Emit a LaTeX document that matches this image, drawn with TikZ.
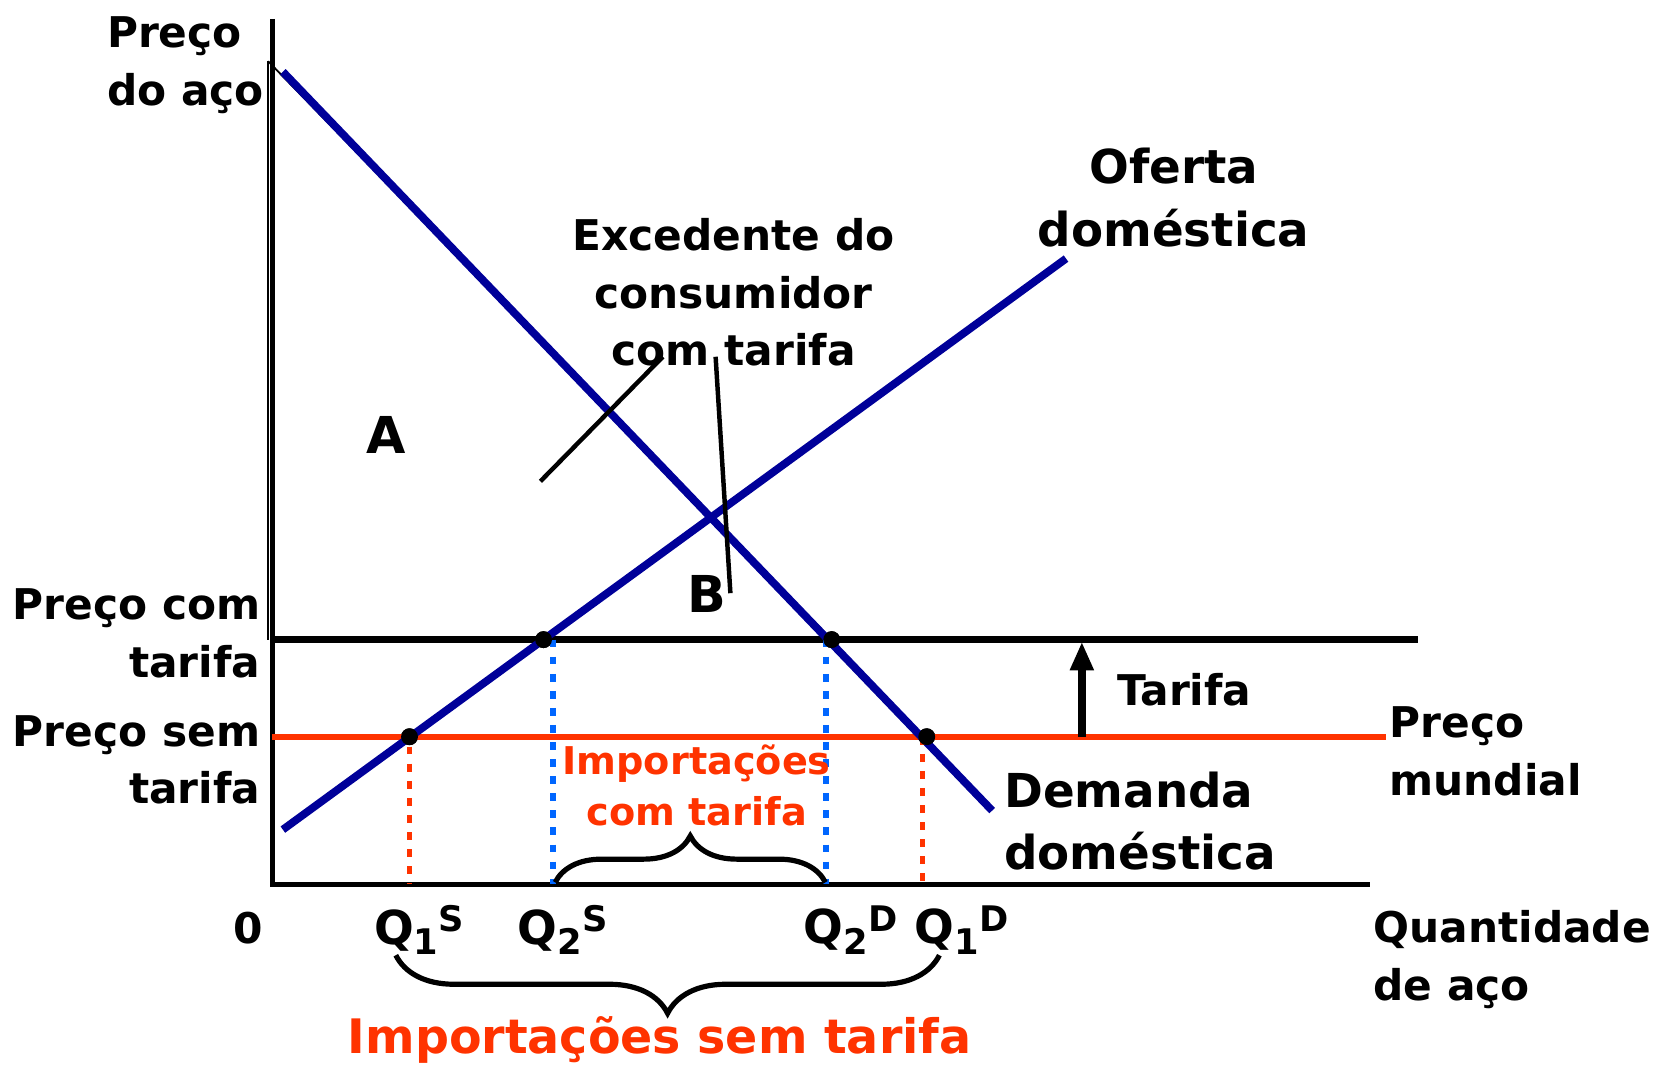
\documentclass[tikz,border=0pt]{standalone}
\usepackage{fontspec}
\setmainfont{DejaVu Sans}
\usetikzlibrary{arrows.meta,positioning,decorations.pathreplacing}

\definecolor{navy}{RGB}{0,0,153}
\definecolor{rotorange}{RGB}{255,51,0}
\definecolor{hellblau}{RGB}{0,102,255}

\newcommand{\qmenge}[2]{Q\raisebox{-2.8pt}{\fontsize{9.5}{9.5}\selectfont #1}\raisebox{3.4pt}{\fontsize{9.5}{9.5}\selectfont #2}}

\begin{document}
\begin{tikzpicture}[x=0.01cm,y=-0.01cm,>={Triangle[length=0.27cm,width=0.21cm]},
                    thick]
\tikzstyle{kurve}=[draw=navy,line width=2.1pt]
\tikzstyle{achse}=[draw=black,line width=1.5pt]
\tikzstyle{preis_linie}=[line width=1.7pt]
\tikzstyle{duenn}=[draw=black,line width=0.5pt]
\tikzstyle{zeiger}=[draw=black,line width=1.2pt]
\tikzstyle{black_point}=[circle,fill=black,inner sep=0pt,minimum size=1.6mm]
\tikzstyle{hilfs_rot}=[draw=rotorange,line width=1.6pt,dash pattern=on 2.1pt off 2.5pt]
\tikzstyle{hilfs_blau}=[draw=hellblau,line width=1.6pt,dash pattern=on 2.1pt off 2.5pt]
\tikzstyle{klammer}=[draw=black,line width=1.4pt,decorate]
\tikzstyle{txt}=[inner sep=0pt,font=\fontsize{11.4}{15.5}\selectfont\bfseries]
\tikzstyle{gross}=[inner sep=0pt,font=\fontsize{12.6}{16.9}\selectfont\bfseries]
\tikzstyle{rot_txt}=[inner sep=0pt,text=rotorange]

\useasboundingbox (0,0) rectangle (1568,1009);

% Achsen und Punkte
\coordinate (ursprung) at (258,838);
\coordinate (y_oben) at (258,18);
\coordinate (x_rechts) at (1298,838);
\coordinate (a_spitze) at (254,58);
\coordinate (a_unten) at (254,606);
\coordinate (d_start) at (268,68);
\coordinate (d_ende) at (940,768);
\coordinate (s_start) at (268,786);
\coordinate (s_ende) at (1010,245);
\coordinate (tarif_links) at (258,606);
\coordinate (tarif_rechts) at (1343,606);
\coordinate (welt_links) at (258,698);
\coordinate (welt_rechts) at (1313,698);

\node[black_point] (q1s) at (388,698) {};
\node[black_point] (q2s) at (515,606) {};
\node[black_point] (q2d) at (788,606) {};
\node[black_point] (q1d) at (878,698) {};

\coordinate (q2s_oben) at (524,606);
\coordinate (q2d_oben) at (783,606);
\coordinate (q1d_oben) at (874,698);

% Flaeche A
\draw[duenn] (a_spitze) -- (a_unten);
\draw[duenn] (a_spitze) -- (q2d);

\draw[achse] (y_oben) -- (ursprung) -- (x_rechts);
\draw[preis_linie,rotorange] (welt_links) -- (welt_rechts);
\draw[preis_linie] (tarif_links) -- (tarif_rechts);

\draw[kurve] (d_start) -- (d_ende);
\draw[kurve] (s_start) -- (s_ende);

\draw[hilfs_rot] (q1s) -- (q1s |- ursprung);
\draw[hilfs_blau] (q2s_oben) -- (q2s_oben |- ursprung);
\draw[hilfs_blau] (q2d_oben) -- (q2d_oben |- ursprung);
\draw[hilfs_rot] (q1d_oben) -- (q1d_oben |- ursprung);

\node[black_point] at (q1s) {};
\node[black_point] at (q2s) {};
\node[black_point] at (q2d) {};
\node[black_point] at (q1d) {};

% Tarif
\coordinate (pfeil_fuss) at (1025,698);
\coordinate (pfeil_kopf) at (1025,608);
\draw[->,line width=2.2pt] (pfeil_fuss) -- (pfeil_kopf);
\node[txt] (tarifa) at (1122,653) {Tarifa};

% Beschriftungen
\node[txt,align=left,anchor=west] (y_label) at (100,62) {Preço\\do aço};
\node[txt,align=right,anchor=east] (p_com) at (248,600) {Preço com\\tarifa};
\node[txt,align=right,anchor=east] (p_sem) at (248,720) {Preço sem\\tarifa};
\node[txt] (null) at (235,879) {0};
\node[txt,align=left,anchor=west] (x_label) at (1300,909) {Quantidade\\de aço};
\node[txt,align=left,anchor=west] (mundial) at (1315,712) {Preço\\mundial};
\node[gross,align=left,anchor=west] (demanda) at (950,778) {Demanda\\doméstica};
\node[gross,align=center] (oferta) at (1112,187) {Oferta\\doméstica};
\node[txt,align=center] (excedente) at (695,277) {Excedente do\\consumidor\\com tarifa};

\node[inner sep=0pt,font=\fontsize{13.7}{14}\selectfont\bfseries] (flaeche_a) at (366,412) {A};
\node[inner sep=0pt,font=\fontsize{13.7}{14}\selectfont\bfseries] (flaeche_b) at (670,563) {B};

\coordinate (zeiger_a) at (512,456);
\coordinate (zeiger_b) at (692,562);
\draw[zeiger] (628,338) -- (zeiger_a);
\draw[zeiger] (678,338) -- (zeiger_b);

\node[txt,font=\fontsize{12.6}{14}\selectfont\bfseries] (q1s_label) at (397,881) {\qmenge{1}{S}};
\node[txt,font=\fontsize{12.6}{14}\selectfont\bfseries] (q2s_label) at (533,881) {\qmenge{2}{S}};
\node[txt,font=\fontsize{12.6}{14}\selectfont\bfseries] (q2d_label) at (806,881) {\qmenge{2}{D}};
\node[txt,font=\fontsize{12.6}{14}\selectfont\bfseries] (q1d_label) at (911,881) {\qmenge{1}{D}};

% Importe
\draw[klammer,decoration={brace,amplitude=0.44cm}] (526,836) -- (782,836);
\draw[klammer,decoration={brace,amplitude=0.55cm}] (890,905) -- (375,905);
\node[rot_txt,align=center,font=\fontsize{10.3}{13.7}\selectfont\bfseries] (imp_com) at (660,744) {Importações\\com tarifa};
\node[rot_txt,font=\fontsize{12.8}{14}\selectfont\bfseries] (imp_sem) at (625,985) {Importações sem tarifa};
\end{tikzpicture}
\end{document}
